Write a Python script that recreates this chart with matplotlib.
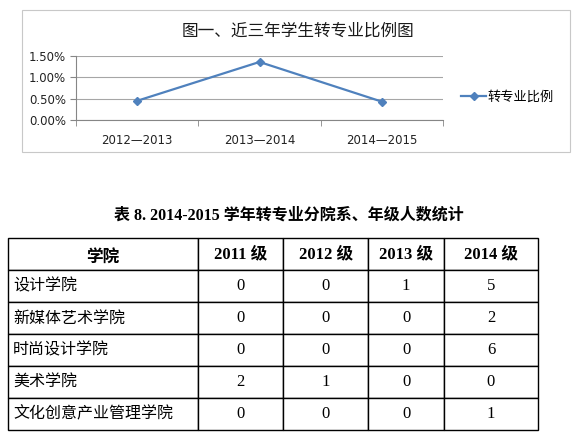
import matplotlib.pyplot as plt
from matplotlib.patches import Rectangle
from matplotlib.ticker import PercentFormatter, FixedLocator

# line chart data (percent)
years = ["2012—2013", "2013—2014", "2014—2015"]
ratio = [0.45, 1.36, 0.43]
series_name = "转专业比例"
chart_title = "图一、近三年学生转专业比例图"

# table data
table_title = "表 8. 2014-2015 学年转专业分院系、年级人数统计"
col_labels = ["学院", "2011 级", "2012 级", "2013 级", "2014 级"]
colleges = ["设计学院", "新媒体艺术学院", "时尚设计学院", "美术学院", "文化创意产业管理学院"]
g2011 = [0, 0, 0, 2, 0]
g2012 = [0, 0, 0, 1, 0]
g2013 = [1, 0, 0, 0, 0]
g2014 = [5, 2, 6, 0, 1]

W, H = 583, 436
cjk = ["Noto Sans CJK SC", "DejaVu Sans"]
serif = ["Liberation Serif", "Noto Sans CJK SC"]
blue = "#4F81BD"

fig = plt.figure(figsize=(W / 100, H / 100), dpi=100)


def fx(x):
    return x / W


def fy(y):
    return 1 - y / H


# chart frame
fig.patches.append(Rectangle((fx(22), fy(152)), fx(570) - fx(22), fy(10) - fy(152),
                             transform=fig.transFigure, fill=False,
                             edgecolor="#C8C8C8", linewidth=0.8))
fig.text(fx(298), fy(31), chart_title, family=cjk, fontsize=12,
         ha="center", va="center", color="#1a1a1a")

ax = fig.add_axes([fx(76), fy(120), fx(443) - fx(76), fy(56) - fy(120)])
x = list(range(len(years)))
ax.plot(x, ratio, color=blue, linewidth=1.6, marker="D", markersize=4,
        label=series_name)
ax.set_xlim(-0.5, len(years) - 0.5)
ax.set_ylim(0, 1.5)
ax.set_yticks([0, 0.5, 1.0, 1.5])
ax.yaxis.set_major_formatter(PercentFormatter(xmax=100, decimals=2))
ax.set_xticks(x)
ax.set_xticklabels(years)
ax.xaxis.set_minor_locator(FixedLocator([i - 0.5 for i in range(len(years) + 1)]))
ax.tick_params(axis="x", which="major", length=0, pad=10, labelsize=8.5, colors="#222222")
ax.tick_params(axis="x", which="minor", length=4, color="#868686", direction="out")
ax.tick_params(axis="y", length=4, labelsize=8.5, pad=3, colors="#868686", labelcolor="#222222")
ax.grid(axis="y", color="#A6A6A6", linewidth=0.8)
for s in ["top", "right"]:
    ax.spines[s].set_visible(False)
ax.spines["left"].set_color("#868686")
ax.spines["bottom"].set_color("#868686")
ax.set_axisbelow(True)

fig.legend(loc="center left", bbox_to_anchor=(fx(461), fy(97)), frameon=False,
           prop={"family": cjk, "size": 9.5}, borderpad=0, borderaxespad=0,
           handlelength=1.9, handletextpad=0.1)

# table
fig.text(fx(289), fy(216), table_title, family=serif, fontsize=11.5, fontweight="bold",
         ha="center", va="center")

tax = fig.add_axes([0, 0, 1, 1])
tax.set_axis_off()
rows = [[c, a, b, d, e] for c, a, b, d, e in zip(colleges, g2011, g2012, g2013, g2014)]
edges = [7.5, 197.6, 282.8, 368.4, 443.9, 538]
widths = [edges[i + 1] - edges[i] for i in range(len(edges) - 1)]
tbl = tax.table(cellText=[[str(v) for v in r] for r in rows],
                colLabels=[""] + col_labels[1:],
                cellLoc="center", colLoc="center",
                colWidths=[w / sum(widths) for w in widths],
                bbox=[fx(7.5), fy(430), fx(538) - fx(7.5), fy(238) - fy(430)])
tbl.auto_set_font_size(False)
for (r, c), cell in tbl.get_celld().items():
    cell.set_linewidth(1.0)
    cell.set_edgecolor("black")
    t = cell.get_text()
    if r == 0:
        t.set_fontfamily(serif)
        t.set_fontweight("bold")
        t.set_fontsize(12)
    elif c == 0:
        cell.PAD = 0.03
        t.set_ha("left")
        cell._loc = "left"
        t.set_fontfamily(cjk)
        t.set_fontsize(11.5)
    else:
        t.set_fontfamily(serif)
        t.set_fontsize(12)

# first header cell text, placed by hand so it sits level with the others
fig.text(fx((edges[0] + edges[1]) / 2), fy(257.5), col_labels[0], family=cjk,
         fontsize=12, fontweight="bold", ha="center", va="center")

fig.savefig("out.png", dpi=100)
